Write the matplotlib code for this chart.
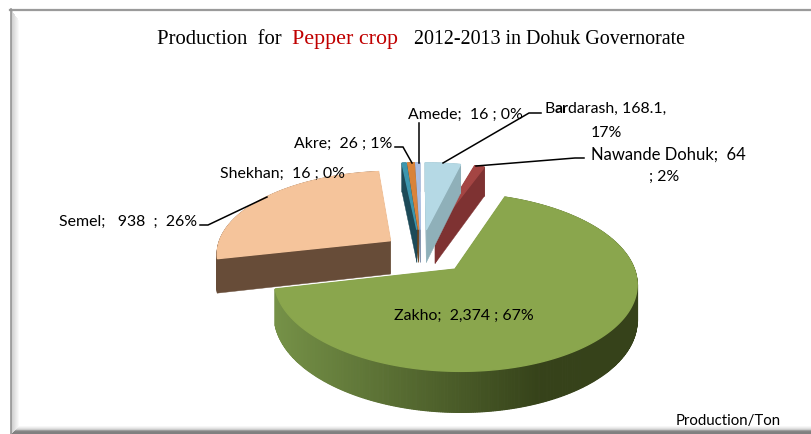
import numpy as np
import matplotlib
matplotlib.use('Agg')
import matplotlib.pyplot as plt

# data
categories = ['Zakho', 'Semel', 'Shekhan', 'Akre', 'Amede', 'Bardarash', 'Nawande Dohuk']
production = [2374, 938, 16, 26, 16, 168.1, 64]
top_colors = ['#8AA64D', '#F5C49B', '#3C96AE', '#D9833B', '#A9BEE3', '#B5D9E5', '#A44543']
wall_colors = ['#5E7433', '#674C38', '#1D4A58', '#6E4118', '#7A8BA8', '#8FB0B9', '#7E3232']

# fake perspective of the 3d pie, in pixels
CX, CY = 421, 252
RX, RY = 174, 82
PERSP = 0.142
DEPTH = 34
START = 20
# how far each slice is pulled out, and how the 3d view bends the slice edges (degrees)
explode = [0.286, 0.22, 0.27, 0.27, 0.27, 0.27, 0.27]
edge_shift = [0, 0, 3, 3, 3, 3, 2.5]
end_trim = [0, 0, 0, 0, 0, 2.5, 0]


def project(u, v, z=0):
    s = 1 / (1 + PERSP * v)
    return CX + RX * u * s, CY - RY * v * s + DEPTH * z * s


def draw_slice(ax, t1, t2, pull, top, wall, gradient=None):
    mid = np.radians((t1 + t2) / 2)
    u0, v0 = pull * np.sin(mid), pull * np.cos(mid)
    ang = np.radians(np.linspace(t1, t2, max(int(t2 - t1) * 2, 3)))
    us, vs = u0 + np.sin(ang), v0 + np.cos(ang)
    # radial walls first
    for u, v in ((us[0], vs[0]), (us[-1], vs[-1])):
        x = [project(u0, v0)[0], project(u, v)[0], project(u, v, 1)[0], project(u0, v0, 1)[0]]
        y = [project(u0, v0)[1], project(u, v)[1], project(u, v, 1)[1], project(u0, v0, 1)[1]]
        ax.fill(x, y, color=wall, lw=0.3)
    # outer wall
    for i in range(len(us) - 1):
        pts = [project(us[i], vs[i]), project(us[i + 1], vs[i + 1]),
               project(us[i + 1], vs[i + 1], 1), project(us[i], vs[i], 1)]
        col = wall
        if gradient is not None:
            f = (pts[0][0] - gradient[0]) / (gradient[1] - gradient[0])
            f = min(max(f, 0), 1)
            c0, c1 = np.array(gradient[2]), np.array(gradient[3])
            col = tuple(c0 + (c1 - c0) * f)
        ax.fill([p[0] for p in pts], [p[1] for p in pts], color=col, lw=0.8)
    # top face, with its own edge so the wall does not peek out round it
    xs, ys = project(np.r_[u0, us], np.r_[v0, vs])
    ax.fill(xs, ys, color=top, lw=1.0)


fig = plt.figure(figsize=(8.11, 4.35), dpi=100)
ax = fig.add_axes([0, 0, 1, 1])
ax.set_xlim(0, 811)
ax.set_ylim(435, 0)
ax.axis('off')

# chart frame with its bevel
ax.plot([10, 811], [10.5, 10.5], color='#9A9A9A', lw=1.6)
for i in range(9):
    g = 0.80 + i * 0.025
    ax.fill([11 + i, 12 + i, 12 + i, 11 + i], [11 + i * 1.4, 11 + i * 1.4, 435 - i, 435 - i],
            color=(g, g, g), lw=0)
ax.plot([10.5, 10.5], [10, 435], color='#959595', lw=1.2)
for i, g in enumerate([0.97, 0.93, 0.88, 0.80, 0.62, 0.52, 0.50, 0.50]):
    ax.fill([19 - i, 811, 811, 19 - i], [427 + i, 427 + i, 428 + i, 428 + i], color=(g, g, g), lw=0)

shares = np.array(production) / sum(production) * 360
starts = START + np.r_[0, np.cumsum(shares)[:-1]] + np.array(edge_shift)
ends = np.r_[starts[1:], START + 360] - np.array(end_trim)

# back slices first, right to left, Zakho is in front of everything
for i in [6, 5, 4, 3, 2, 1, 0]:
    grad = None
    if i == 0:
        grad = (275, 540, (0.46, 0.57, 0.28), (0.21, 0.26, 0.10))
    draw_slice(ax, starts[i], ends[i], explode[i], top_colors[i], wall_colors[i], grad)

# leader lines
leaders = [
    ([200, 208, 267], [226, 226, 198]),
    ([395, 403, 412], [148, 148, 164]),
    ([419, 419], [124, 164]),
    ([443, 529, 541], [164, 114, 114]),
    ([476, 575, 584], [167, 159, 159]),
]
for lx, ly in leaders:
    ax.plot(lx, ly, color='black', lw=1.1, solid_joinstyle='miter')

label_font = dict(family='Lato', fontsize=11.4, color='black', ha='center', va='center')
ax.text(464, 316, 'Zakho;  2,374 ; 67%', **label_font)
ax.text(128, 222, 'Semel;   938  ;  26%', **label_font)
ax.text(283, 174, 'Shekhan;  16 ; 0%', **label_font)
ax.text(343, 144, 'Akre;  26 ; 1%', **label_font)
ax.text(465, 115, 'Amede;  16 ; 0%', **label_font)
# the 'ar' of Bardarash is bold in the original
t = ax.text(544, 109, 'B', family='Lato', fontsize=11.4, va='center')
fig.canvas.draw()
rend = fig.canvas.get_renderer()
x = 544 + t.get_window_extent(rend).width
t = ax.text(x, 109, 'ar', family='Lato', fontsize=11.4, va='center', fontweight='bold')
x = x + t.get_window_extent(rend).width
ax.text(x, 109, 'darash, 168.1,', family='Lato', fontsize=11.4, va='center')
ax.text(606, 133, '17%', **label_font)
ax.text(668, 155, 'Nawande Dohuk;  64', family='Lato', fontsize=12, ha='center', va='center')
ax.text(664, 177, '; 2%', **label_font)
ax.text(728, 421, 'Production/Ton', family='Lato', fontsize=10.8, ha='center', va='center')

title_font = dict(family='Liberation Serif', va='baseline')
ax.text(157, 44, 'Production  for', fontsize=14.9, color='black', **title_font)
ax.text(292, 44, 'Pepper crop', fontsize=15.8, color='#C00000', **title_font)
ax.text(414, 44, '2012-2013 in Dohuk Governorate', fontsize=14.4, color='black', **title_font)

fig.savefig('out.png', dpi=100)
